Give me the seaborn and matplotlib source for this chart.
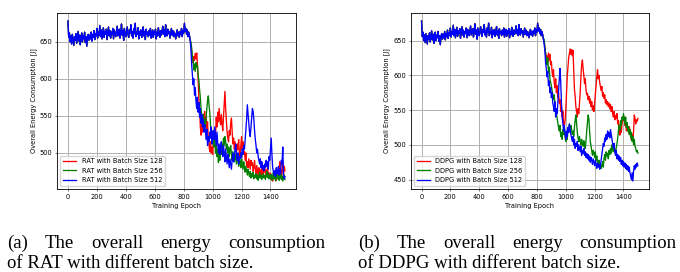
import numpy as np
import pandas as pd
import matplotlib
matplotlib.use("Agg")
import matplotlib.pyplot as plt
import seaborn as sns

# epochs sampled every 5 steps
epochs = np.arange(0, 1505, 5)

# shared warm-up phase (epochs 0..845), all runs overlap here
warmup = [
    678, 656, 662, 650, 658, 647, 660, 653, 645, 657,
    652, 661, 648, 656, 664, 651, 659, 646, 655, 662,
    650, 658, 654, 663, 649, 657, 644, 656, 660, 652,
    659, 654, 663, 651, 660, 656, 665, 653, 661, 658,
    668, 655, 663, 659, 672, 657, 666, 654, 662, 669,
    656, 664, 660, 667, 653, 662, 670, 658, 665, 655,
    663, 660, 668, 654, 666, 661, 657, 664, 671, 658,
    662, 667, 655, 663, 674, 659, 665, 652, 668, 661,
    657, 664, 670, 660, 656, 666, 662, 673, 658, 664,
    655, 668, 661, 675, 657, 663, 660, 669, 654, 664,
    659, 666, 656, 662, 670, 658, 664, 653, 667, 660,
    663, 657, 665, 659, 668, 655, 662, 666, 656, 664,
    660, 667, 654, 663, 658, 669, 661, 656, 665, 659,
    663, 671, 660, 666, 657, 673, 662, 658, 667, 661,
    664, 655, 662, 668, 659, 665, 657, 663, 660, 654,
    661, 666, 658, 663, 656, 664, 660, 668, 657, 665,
    662, 675, 664, 668, 660, 666, 657, 663, 658, 652,
]

# tails (epochs 850..1500)
rat_128 = [
    646, 637, 628, 622, 630, 625, 634, 627, 635, 620,
    598, 572, 560, 535, 524, 540, 528, 552, 545, 556,
    538, 548, 530, 542, 520, 510, 502, 515, 500, 508,
    498, 520, 515, 530, 522, 548, 535, 555, 542, 560,
    545, 538, 552, 540, 530, 548, 565, 583, 560, 545,
    528, 520, 515, 530, 524, 540, 547, 530, 512, 520,
    505, 515, 508, 500, 512, 505, 518, 500, 495, 510,
    522, 505, 515, 498, 502, 490, 500, 482, 488, 480,
    492, 485, 478, 490, 483, 487, 475, 480, 490, 478,
    470, 483, 475, 468, 480, 472, 477, 468, 485, 475,
    470, 482, 474, 478, 468, 476, 480, 470, 473, 466,
    472, 464, 470, 462, 468, 475, 466, 470, 463, 472,
    468, 480, 470, 488, 475, 466, 478, 484, 470, 482,
    476,
]
rat_256 = [
    650, 642, 630, 625, 612, 620, 610, 622, 615, 618,
    605, 598, 585, 575, 560, 548, 540, 552, 538, 545,
    535, 548, 560, 570, 577, 565, 555, 540, 520, 530,
    512, 525, 508, 518, 500, 510, 495, 505, 487, 500,
    490, 505, 498, 512, 505, 520, 510, 522, 515, 505,
    512, 500, 508, 495, 505, 510, 498, 490, 502, 495,
    488, 498, 492, 485, 495, 490, 482, 494, 488, 480,
    492, 485, 478, 488, 480, 474, 482, 476, 470, 478,
    472, 468, 475, 466, 472, 468, 474, 465, 470, 467,
    472, 465, 470, 463, 468, 474, 466, 470, 464, 468,
    472, 466, 470, 464, 469, 475, 467, 472, 465, 470,
    466, 471, 463, 468, 474, 465, 470, 462, 467, 472,
    465, 470, 463, 468, 472, 464, 469, 462, 466, 470,
    464,
]
rat_512 = [
    640, 620, 605, 592, 600, 578, 588, 570, 560, 575,
    555, 568, 548, 560, 540, 552, 535, 545, 528, 538,
    530, 518, 532, 510, 522, 515, 528, 520, 535, 512,
    525, 530, 518, 535, 522, 510, 528, 515, 500, 512,
    498, 508, 515, 502, 495, 510, 500, 488, 505, 495,
    485, 498, 490, 480, 492, 485, 478, 490, 500, 488,
    495, 505, 512, 498, 490, 500, 485, 495, 492, 500,
    494, 505, 498, 510, 505, 518, 530, 545, 565, 552,
    538, 528, 522, 535, 548, 560, 556, 545, 530, 518,
    510, 500, 505, 495, 490, 485, 492, 480, 488, 478,
    483, 476, 485, 480, 490, 482, 488, 478, 495, 490,
    505, 520, 498, 480, 475, 470, 476, 468, 480, 472,
    475, 482, 470, 478, 472, 490, 485, 508, 470, 465,
    468,
]

ddpg_128 = [
    648, 640, 632, 624, 628, 618, 632, 622, 630, 615,
    620, 605, 598, 608, 590, 582, 595, 575, 585, 568,
    575, 560, 565, 548, 555, 540, 548, 530, 526, 535,
    550, 575, 598, 612, 625, 632, 638, 630, 637, 628,
    636, 610, 580, 570, 555, 548, 540, 552, 545, 560,
    575, 598, 615, 622, 610, 600, 588, 595, 580, 572,
    574, 565, 570, 560, 566, 555, 562, 550, 556, 548,
    560, 572, 585, 598, 608, 595, 600, 590, 584, 578,
    584, 570, 575, 567, 572, 560, 565, 558, 562, 555,
    560, 552, 558, 548, 555, 545, 540, 548, 536, 542,
    538, 545, 530, 535, 520, 514, 525, 518, 530, 540,
    535, 540, 528, 532, 520, 530, 524, 518, 526, 520,
    512, 507, 515, 505, 520, 543, 538, 530, 536, 534,
    538,
]
ddpg_256 = [
    652, 640, 632, 622, 615, 625, 605, 612, 595, 590,
    585, 578, 570, 565, 572, 558, 550, 545, 538, 530,
    525, 520, 528, 512, 518, 508, 522, 515, 525, 512,
    505, 515, 508, 520, 525, 530, 518, 528, 522, 515,
    520, 512, 525, 535, 543, 530, 518, 510, 505, 512,
    505, 500, 508, 502, 498, 506, 500, 495, 505, 520,
    532, 543, 538, 520, 505, 498, 490, 485, 492, 488,
    482, 490, 478, 484, 475, 470, 478, 468, 472, 466,
    470, 476, 468, 480, 486, 478, 490, 484, 488, 480,
    492, 486, 495, 488, 500, 494, 490, 498, 492, 488,
    496, 502, 510, 520, 528, 522, 535, 528, 540, 536,
    545, 538, 530, 540, 525, 532, 520, 526, 515, 522,
    510, 518, 505, 512, 500, 508, 498, 495, 490, 492,
    488,
]
ddpg_512 = [
    645, 635, 618, 610, 598, 605, 585, 592, 575, 582,
    568, 575, 560, 555, 548, 562, 540, 552, 545, 560,
    578, 595, 610, 590, 560, 540, 530, 520, 528, 515,
    508, 520, 512, 525, 518, 530, 522, 515, 510, 505,
    512, 500, 508, 495, 502, 498, 505, 492, 500, 495,
    490, 498, 485, 492, 488, 495, 485, 490, 482, 488,
    480, 486, 478, 484, 475, 482, 478, 472, 480, 475,
    470, 478, 472, 466, 474, 468, 472, 465, 470, 478,
    485, 495, 502, 498, 510, 505, 515, 508, 520, 512,
    518, 510, 522, 515, 508, 500, 495, 502, 490, 485,
    492, 480, 486, 478, 484, 476, 482, 472, 478, 470,
    476, 468, 474, 466, 472, 464, 470, 462, 468, 460,
    455, 450, 460, 448, 462, 470, 465, 472, 468, 474,
    470,
]

batch_sizes = [128, 256, 512]
line_colors = ["red", "green", "blue"]

plt.rcParams.update({
    "font.family": "DejaVu Sans",
    "font.size": 4.8,
    "axes.linewidth": 0.6,
    "axes.edgecolor": "black",
    "axes.labelpad": 2.0,
    "xtick.major.size": 1.7,
    "ytick.major.size": 1.7,
    "xtick.major.width": 0.4,
    "ytick.major.width": 0.4,
    "xtick.major.pad": 1.7,
    "ytick.major.pad": 1.7,
    "grid.color": "#b0b0b0",
    "grid.linewidth": 0.7,
    "legend.fontsize": 4.8,
})


def draw_panel(ax, method, tails):
    frames = []
    for bs, tail in zip(batch_sizes, tails):
        frames.append(pd.DataFrame({
            "epoch": epochs,
            "energy": np.array(warmup + tail),
            "run": f"{method} with Batch Size {bs}",
        }))
    df = pd.concat(frames, ignore_index=True)
    order = [f"{method} with Batch Size {bs}" for bs in batch_sizes]
    sns.lineplot(data=df, x="epoch", y="energy", hue="run", hue_order=order,
                 palette=line_colors, estimator=None, sort=False,
                 linewidth=0.95, ax=ax)
    ax.grid(True)
    ax.set_xlabel("Training Epoch")
    ax.set_ylabel("Overall Energy Consumption [J]")
    leg = ax.legend(loc="lower left", fancybox=True, framealpha=0.8,
                    borderaxespad=0.5, handlelength=2.0)
    for h in leg.get_lines():
        h.set_linewidth(0.95)


fig = plt.figure(figsize=(6.8, 2.72), dpi=100)
ax_rat = fig.add_axes([0.084, 0.305, 0.351, 0.647])
ax_ddpg = fig.add_axes([0.604, 0.305, 0.350, 0.647])

draw_panel(ax_rat, "RAT", [rat_128, rat_256, rat_512])
draw_panel(ax_ddpg, "DDPG", [ddpg_128, ddpg_256, ddpg_512])

CAP_SIZE = 13.5


# captions, first line justified like the paper layout
def justified(words, x0, x1, y):
    texts = [fig.text(x0, y, w, family="Liberation Serif", fontsize=CAP_SIZE) for w in words]
    r = fig.canvas.get_renderer()
    W = fig.get_figwidth() * fig.dpi
    widths = [t.get_window_extent(r).width / W for t in texts]
    gap = ((x1 - x0) - sum(widths)) / (len(words) - 1)
    x = x0
    for t, w in zip(texts, widths):
        t.set_x(x)
        x += w + gap


justified(["(a)", "The", "overall", "energy", "consumption"], 0.010, 0.478, 1 - 248 / 272)
fig.text(0.010, 1 - 268 / 272, "of RAT with different batch size.",
         family="Liberation Serif", fontsize=CAP_SIZE)
justified(["(b)", "The", "overall", "energy", "consumption"], 0.527, 0.995, 1 - 248 / 272)
fig.text(0.527, 1 - 268 / 272, "of DDPG with different batch size.",
         family="Liberation Serif", fontsize=CAP_SIZE)

fig.savefig("out.png", dpi=100)
